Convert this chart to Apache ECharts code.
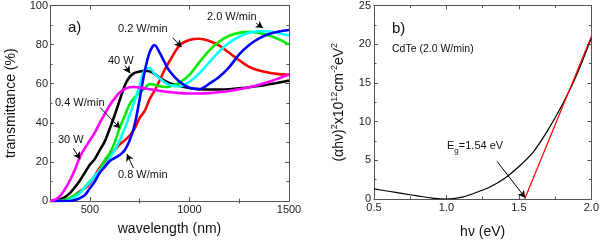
<!DOCTYPE html>
<html><head><meta charset="utf-8">
<script src="https://cdn.jsdelivr.net/npm/echarts@6/dist/echarts.min.js"></script>
<style>html,body{margin:0;padding:0;background:#fff}#c{width:602px;height:244px}</style>
</head><body><div id="c"></div>
<script>
const wl = [300,325,350,375,400,425,450,475,500,525,550,575,600,625,650,675,700,725,750,775,800,825,850,875,900,950,1000,1050,1100,1150,1200,1250,1300,1350,1400,1450,1500];
const t30W = [0,0.7,2.5,6,10.5,16,22.5,27,31,35,40,44.5,49,52.5,55.5,57.3,58.2,58.3,58,57.6,57.2,56.8,56.4,56,55.7,55.2,55,55,55.2,55.7,56.3,57.2,58.2,59.5,61,62.8,64.7];
const t40W = [0,0,0.8,2,4,7,10.5,14.5,18.5,21.5,26,30.5,37,44,51.5,59,63.5,65.5,66.2,66.6,66.3,65,63,61.5,60.3,58.8,57.8,57.2,57,57,57.2,57.6,58.2,58.9,59.7,60.6,61.6];
const t04 = [0,0,0,0.7,1.5,3,4.5,7,10,12.5,16,21,24.5,30,37.5,43.5,49.5,53,55.5,57.5,59.8,59.5,58.7,58.3,58.5,60.5,64.5,71,77,81.5,84.5,86,86.5,86,84.7,82.7,80];
const t20 = [0,0,0,0,0.7,2,4,7,9.5,13,15.5,18,22,26,31,37,44,51,59,67,68,65,62.8,60.8,59.3,58.6,61,65.3,71,76.5,81,84,86,86.8,86.7,85.8,84.6];
const t08 = [0,0,0,0,0,0.5,1.5,3,6.5,10,14.5,17.5,20.5,22,23.5,26,31,39,52,66,76,79.8,76,71,66.5,61,58,57.2,60,63.5,68.5,75,79.8,83.2,85.4,86.7,87.5];
const t02 = [0,0,0,0.5,1.5,3,5,6.5,9,13,17,20.5,23,26,29,31,33.5,37,42.5,46,52,56.5,61.5,67,71.5,79.5,82.3,83,81.8,79.5,75.8,72,68.6,66.7,65.6,64.9,64.5];
const hv = [0.5,0.6,0.7,0.8,0.9,1.0,1.1,1.2,1.3,1.4,1.5,1.6,1.7,1.8,1.9,2.0];
const ahv2 = [1.3,1.0,0.7,0.4,0.12,0,0.2,0.8,1.55,2.65,4.2,6.1,8.9,12.2,16.1,20.8];
const fitX = [1.54, 2.0];
const fitY = [0, 21];
const wlMajor = [500,1000,1500];
const wlMinor = [750,1250];

const zip = (xs, ys) => xs.map((x,i) => [x, ys[i]]);
const FONT = '"Liberation Sans", Arial, sans-serif';
const AX = '#555';
const chart = echarts.init(document.getElementById('c'), null, {renderer:'canvas'});

function frameAxis(extra){
  return Object.assign({
    axisLine:{show:true, onZero:false, lineStyle:{color:AX, width:1}},
    axisTick:{show:true, inside:true, length:4, lineStyle:{color:AX}},
    minorTick:{show:true, splitNumber:2, length:2.5, lineStyle:{color:AX}},
    axisLabel:{show:false},
    splitLine:{show:false}
  }, extra);
}
const lbl = {show:true, color:'#222', fontSize:11, fontFamily:FONT, margin:3};

function line(name, xs, ys, color, w, xi, yi, z){
  return {name, type:'line', data: zip(xs, ys), xAxisIndex:xi, yAxisIndex:yi,
    showSymbol:false, smooth:0.3, z:z||2,
    lineStyle:{color, width:w}, itemStyle:{color}, silent:true};
}
function arrows(list){
  return {silent:true, symbol:['none','arrow'], symbolSize:[6,7], animation:false,
    label:{show:false}, lineStyle:{color:'#000', width:1, type:'solid'},
    data: list.map(a => [{coord:a[0]},{coord:a[1]}])};
}

const s1 = line('0.2 W/min', wl, t02, '#ff0000', 2.6, 0, 0);
const s2 = line('0.4 W/min', wl, t04, '#00ee00', 2.6, 0, 0);
const s3 = line('2.0 W/min', wl, t20, '#00ffff', 2.6, 0, 0);
const s4 = line('0.8 W/min', wl, t08, '#0000ff', 2.6, 0, 0);
const s5 = line('40 W', wl, t40W, '#000000', 2.6, 0, 0);
const s6 = line('30 W', wl, t30W, '#ff00ff', 2.6, 0, 0);
s6.markLine = arrows([
  [[916,83.5],[961,78.7]],
  [[1336,90.9],[1369,88.5]],
  [[677,69.2],[702,65.4]],
  [[552,47.8],[652,37.2]],
  [[416,27],[452,21.4]],
  [[719,16.8],[686,24]]
]);
const r1 = line('data', hv, ahv2, '#000000', 1.2, 4, 2);
const r2 = line('fit', fitX, fitY, '#ff0000', 1.2, 4, 2);
r2.smooth = false;
r2.markLine = arrows([[[1.349,4.87],[1.543,0.17]]]);

const option = {
  animation:false,
  backgroundColor:'#fff',
  textStyle:{fontFamily:FONT},
  grid:[
    {left:50, right:313, top:5, bottom:43},
    {left:374, right:7, top:5, bottom:43}
  ],
  xAxis:[
    frameAxis({gridIndex:0, type:'value', position:'bottom', min:300, max:1500,
      axisTick:{show:true, inside:true, length:4, customValues:wlMajor, lineStyle:{color:AX}},
      minorTick:{show:false},
      axisLabel:Object.assign({customValues:wlMajor, formatter:v=>String(v)}, lbl),
      name:'wavelength (nm)', nameLocation:'middle', nameGap:21,
      nameTextStyle:{fontSize:14, color:'#111', fontFamily:FONT}}),
    frameAxis({gridIndex:0, type:'value', position:'bottom', min:300, max:1500,
      axisLine:{show:false},
      axisTick:{show:true, inside:true, length:2.5, customValues:wlMinor, lineStyle:{color:AX}},
      minorTick:{show:false}}),
    frameAxis({gridIndex:0, type:'value', position:'top', min:300, max:1500,
      axisTick:{show:true, inside:true, length:4, customValues:wlMajor, lineStyle:{color:AX}},
      minorTick:{show:false}}),
    frameAxis({gridIndex:0, type:'value', position:'top', min:300, max:1500,
      axisLine:{show:false},
      axisTick:{show:true, inside:true, length:2.5, customValues:wlMinor, lineStyle:{color:AX}},
      minorTick:{show:false}}),
    frameAxis({gridIndex:1, type:'value', position:'bottom', min:0.5, max:2.0, interval:0.5,
      axisLabel:Object.assign({formatter:v=>v.toFixed(1)}, lbl),
      name:'h\u03bd (eV)', nameLocation:'middle', nameGap:26,
      nameTextStyle:{fontSize:14, color:'#111', fontFamily:FONT}}),
    frameAxis({gridIndex:1, type:'value', position:'top', min:0.5, max:2.0, interval:0.5})
  ],
  yAxis:[
    frameAxis({gridIndex:0, type:'value', position:'left', min:0, max:100, interval:20,
      axisLabel:Object.assign({}, lbl, {margin:2}),
      name:'transmittance (%)', nameLocation:'middle', nameGap:32, nameRotate:90,
      nameTextStyle:{fontSize:14, color:'#111', fontFamily:FONT}}),
    frameAxis({gridIndex:0, type:'value', position:'right', min:0, max:100, interval:20}),
    frameAxis({gridIndex:1, type:'value', position:'left', min:0, max:25, interval:5,
      axisLabel:Object.assign({}, lbl, {margin:3}),
      name:'(\u03b1h\u03bd){s|2}x10{s|12}cm{s|-2}eV{s|2}', nameLocation:'middle', nameGap:26, nameRotate:90,
      nameTextStyle:{fontSize:14, color:'#111', fontFamily:FONT, lineHeight:18,
        rich:{s:{fontSize:9, verticalAlign:'top', lineHeight:18, color:'#111', fontFamily:FONT}}}}),
    frameAxis({gridIndex:1, type:'value', position:'right', min:0, max:25, interval:5})
  ],
  series:[s5, s1, s2, s3, s4, s6, r1, r2],
  graphic:[
    {type:'text', left:68, top:20, style:{text:'a)', fontSize:15, fill:'#111', fontFamily:FONT}},
    {type:'text', left:118, top:23, style:{text:'0.2 W/min', fontSize:11, fill:'#111', fontFamily:FONT}},
    {type:'text', left:207, top:11, style:{text:'2.0 W/min', fontSize:11, fill:'#111', fontFamily:FONT}},
    {type:'text', left:108, top:55, style:{text:'40 W', fontSize:11, fill:'#111', fontFamily:FONT}},
    {type:'text', left:55, top:97, style:{text:'0.4 W/min', fontSize:11, fill:'#111', fontFamily:FONT}},
    {type:'text', left:58, top:134, style:{text:'30 W', fontSize:11, fill:'#111', fontFamily:FONT}},
    {type:'text', left:118, top:169, style:{text:'0.8 W/min', fontSize:11, fill:'#111', fontFamily:FONT}},
    {type:'text', left:392, top:21, style:{text:'b)', fontSize:15, fill:'#111', fontFamily:FONT}},
    {type:'text', left:392, top:44, style:{text:'CdTe (2.0 W/min)', fontSize:10.5, fill:'#111', fontFamily:FONT}},
    {type:'text', left:447, top:140, style:{text:'E{g|g}=1.54 eV', fontSize:11, fill:'#111', fontFamily:FONT,
      rich:{g:{fontSize:8, verticalAlign:'bottom', lineHeight:18, padding:[6,0,0,0], fill:'#111', fontFamily:FONT}}}}
  ]
};
chart.setOption(option);
</script></body></html>
